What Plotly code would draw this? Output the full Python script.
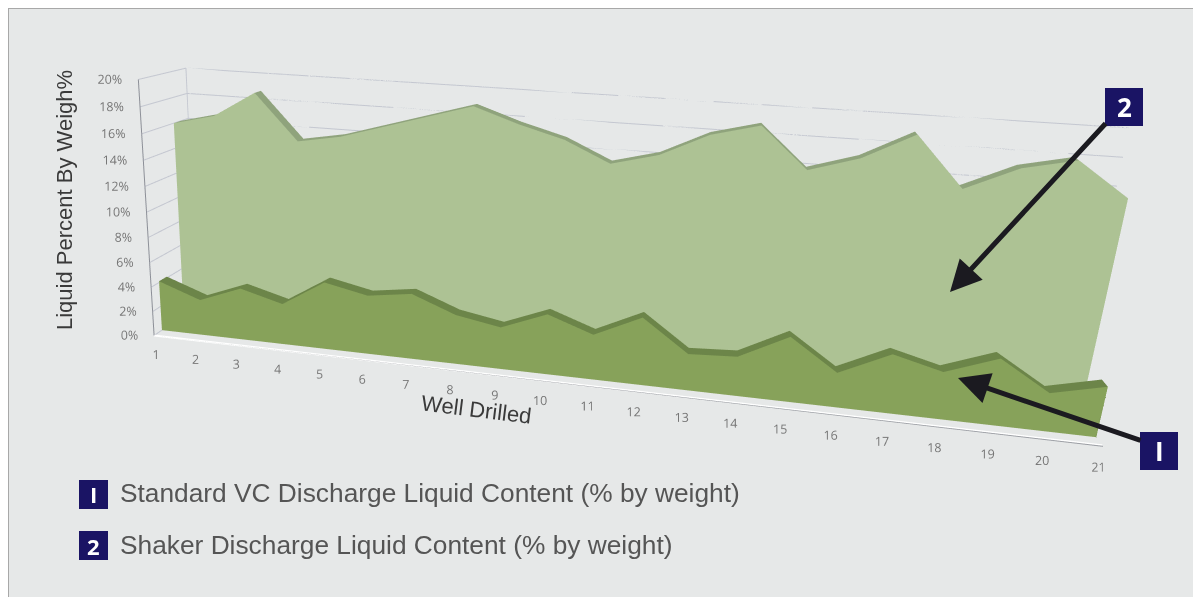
import plotly.graph_objects as go

wells = list(range(1, 22))
standard_vc = [4.1, 2.9, 4.2, 3.3, 5.4, 4.7, 5.2, 3.9, 3.3, 4.7, 3.5, 5.2, 2.8, 3.0, 4.9, 2.6, 4.4, 3.5, 4.9, 2.8, 3.7]
shaker = [16.0, 16.8, 18.8, 15.3, 15.9, 16.9, 17.9, 18.9, 17.8, 16.9, 15.4, 16.3, 18.0, 18.9, 16.0, 17.1, 19.0, 15.5, 17.2, 18.0, 15.7]
pct_ticks = list(range(0, 21, 2))

W, H = 1193, 589
XR, YR, ZR = (0, 21), (-0.02, 1), (-2, 24)
DEPTH_LIFT = 1.4316  # the back of the 3-D box sits higher on screen than this camera alone gives


def zz(v, y):
    return [a + DEPTH_LIFT * b for a, b in zip(v, y)]


def line3d(x, y, z, color, width):
    return go.Scatter3d(x=x, y=y, z=zz(z, y), mode="lines", line=dict(color=color, width=width), hoverinfo="skip")


def mesh(x, y, z, tri, color):
    i, j, k = zip(*tri)
    return go.Mesh3d(x=x, y=y, z=z, i=i, j=j, k=k, color=color, flatshading=True, hoverinfo="skip",
                     lighting=dict(ambient=1, diffuse=0, specular=0, fresnel=0))


def strip(x0, y0, z0, x1, y1, z1):
    n = len(x0)
    t = []
    for a in range(n - 1):
        t += [(a, a + 1, n + a), (a + 1, n + a + 1, n + a)]
    return list(x0) + list(x1), list(y0) + list(y1), zz(list(z0), y0) + zz(list(z1), y1), t


def area(vals, y0, y1, cf, ct):
    n = len(wells)
    return [mesh(*strip(wells, [y0] * n, [0] * n, wells, [y0] * n, vals), cf),
            mesh(*strip(wells, [y0] * n, vals, wells, [y1] * n, vals), ct),
            line3d([wells[-1]] * 2, [y0, y0], [0, vals[-1]], ct, 3)]


GRID = "#c4c7d0"
fig = go.Figure()
for t_ in pct_ticks:
    fig.add_trace(line3d([wells[0]] + wells, [0] + [1] * len(wells), [t_] * (len(wells) + 1), GRID, 2))
fig.add_trace(line3d([wells[0], wells[0]], [1, 1], [0, 20], GRID, 2))
fig.add_trace(line3d([wells[0], wells[-1]], [0.0, 0.0], [0, 0], "#ffffff", 4))
fig.add_trace(line3d([wells[0], wells[0]], [0, 0], [0, 20], "#8d9098", 2))
fig.add_trace(line3d([wells[0], wells[-1]], [-0.02, -0.02], [0, 0], "#9a9da3", 2))
for t in area(standard_vc, .17, .34, "#87a25a", "#6c8549") + area(shaker, .67, .83, "#adc294", "#8fa37c"):
    fig.add_trace(t)
tf = dict(size=12.5, color="#777777", family="Open Sans")
fig.add_trace(go.Scatter3d(x=[0.9] * len(pct_ticks), y=[0] * len(pct_ticks), z=pct_ticks, mode="text",
                           text=["%d%%" % t for t in pct_ticks], textposition="middle left", textfont=tf, hoverinfo="skip"))
fig.add_trace(go.Scatter3d(x=wells, y=[0] * len(wells), z=[-1.6] * len(wells), mode="text",
                           text=[str(w) for w in wells], textposition="middle center", textfont=tf, hoverinfo="skip"))


def px(v):
    return (v - 8) / W


def py(v):
    return 1 - (v - 8) / H


NAVY = "#1a1464"
SANS = "Liberation Sans"
anns = [
    dict(x=px(65), y=py(200), text="Liquid Percent By Weigh%", textangle=-90, font=dict(size=22, color="#3a3a3a", family=SANS)),
    dict(x=px(476), y=py(409), text="Well Drilled", textangle=7, font=dict(size=22, color="#3a3a3a", family=SANS)),
    dict(x=px(118), y=py(493), text="Standard VC Discharge Liquid Content (% by weight)", xanchor="left", font=dict(size=26.3, color="#555555", family=SANS)),
    dict(x=px(118), y=py(545), text="Shaker Discharge Liquid Content (% by weight)", xanchor="left", font=dict(size=26.3, color="#555555", family=SANS)),
    dict(x=px(93.5), y=py(494), text="<b>I</b>", font=dict(size=22, color="white", family="Open Sans")),
    dict(x=px(93.5), y=py(546), text="<b>2</b>", font=dict(size=22, color="white", family="Open Sans")),
    dict(x=px(1124), y=py(107), text="<b>2</b>", font=dict(size=26, color="white", family="Open Sans")),
    dict(x=px(1159), y=py(451), text="<b>I</b>", font=dict(size=26, color="white", family="Open Sans")),
]
for a in anns:
    a.update(xref="paper", yref="paper", showarrow=False, yanchor="middle")
    a.setdefault("xanchor", "center")
for hx, hy, tx, ty in [(950, 292, 1107, 122), (958, 378, 1142, 441)]:
    anns.append(dict(xref="paper", yref="paper", x=px(hx), y=py(hy), ax=tx - hx, ay=ty - hy, showarrow=True,
                     arrowhead=2, arrowsize=1.25, arrowwidth=5, arrowcolor="#1b1a20", text=""))


def box(x0, y0, x1, y1):
    return dict(type="rect", xref="paper", yref="paper", x0=px(x0), x1=px(x1), y0=py(y1), y1=py(y0),
                fillcolor=NAVY, line=dict(width=0), layer="below")


fig.update_layout(
    width=W, height=H, margin=dict(l=0, r=0, t=0, b=0), paper_bgcolor="#e6e8e8", showlegend=False,
    scene=dict(domain=dict(x=[0, 1], y=[0, 1]), dragmode="orbit",
               aspectmode="manual", aspectratio=dict(x=2.8955, y=0.2012, z=1),
               camera=dict(eye=dict(x=0.3494, y=-2.0316, z=0.239), center=dict(x=0.0862, y=0, z=-0.1946),
                           up=dict(x=-0.0727, y=0, z=1), projection=dict(type="perspective")),
               xaxis=dict(range=list(XR), visible=False),
               yaxis=dict(range=list(YR), visible=False),
               zaxis=dict(range=list(ZR), visible=False)),
    shapes=[dict(type="rect", xref="paper", yref="paper", x0=0, x1=1.01, y0=-0.01, y1=1,
                 line=dict(color="#a8a8a8", width=2), layer="below"),
            box(79, 480, 108, 509), box(79, 531, 108, 560), box(1105, 88, 1143, 126), box(1140, 432, 1178, 470)],
    annotations=anns,
)
fig.write_html("out.html")
